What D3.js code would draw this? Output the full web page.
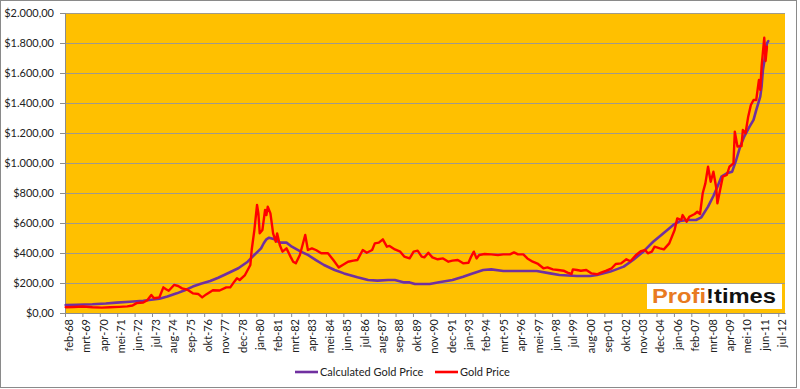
<!DOCTYPE html>
<html><head><meta charset="utf-8">
<script src="https://cdn.jsdelivr.net/npm/d3@7"></script>
<style>
body{margin:0;background:#fff}
svg{display:block}
text{font-family:Lato,"Liberation Sans",sans-serif}
</style>
</head><body>
<svg id="c" width="800" height="389"></svg>
<script>
// ---------- data ----------
const tickLabels = ["feb-68","mrt-69","apr-70","mei-71","jun-72","jul-73","aug-74","sep-75","okt-76","nov-77","dec-78","jan-80","feb-81","mrt-82","apr-83","mei-84","jun-85","jul-86","aug-87","sep-88","okt-89","nov-90","dec-91","jan-93","feb-94","mrt-95","apr-96","mei-97","jun-98","jul-99","aug-00","sep-01","okt-02","nov-03","dec-04","jan-06","feb-07","mrt-08","apr-09","mei-10","jun-11","jul-12"];
const yTicks = [0,200,400,600,800,1000,1200,1400,1600,1800,2000];
const seriesNames = ["Calculated Gold Price","Gold Price"];

const calcDates = ["1968-02","1968-10","1969-10","1970-08","1971-04","1972-02","1972-12","1973-12","1974-06","1975-01","1975-07","1976-01","1976-07","1977-02","1977-08","1978-02","1978-11","1979-06","1979-11","1980-04","1980-06","1980-08","1980-10","1981-02","1981-06","1981-11","1982-03","1982-09","1983-03","1983-09","1984-03","1984-11","1985-06","1986-04","1986-12","1987-07","1988-03","1988-08","1989-03","1989-07","1989-11","1990-03","1990-10","1991-05","1992-03","1992-11","1993-06","1994-02","1994-08","1995-05","1996-03","1997-06","1998-04","1998-11","1999-12","2000-10","2001-03","2002-01","2002-11","2003-06","2003-11","2004-02","2004-09","2005-04","2005-12","2006-05","2006-11","2007-05","2007-09","2008-02","2008-06","2008-09","2008-12","2009-04","2009-08","2009-11","2010-02","2010-05","2010-09","2010-12","2011-02","2011-05","2011-06","2011-07","2011-09","2011-10","2011-11"];
const calcValues = [53,55,58,63,69,75,82,95,110,131,152,176,195,213,235,260,298,342,387,431,465,491,502,491,469,469,442,413,387,353,320,287,264,238,220,216,220,220,204,204,193,193,193,205,220,242,264,287,291,280,280,280,264,253,247,247,253,276,309,353,390,412,475,527,587,613,620,620,638,709,780,842,909,931,942,1020,1109,1176,1242,1287,1353,1442,1509,1620,1731,1798,1813];

const goldDates = ["1968-02","1968-08","1969-03","1969-10","1970-05","1970-11","1971-06","1971-12","1972-04","1972-07","1972-12","1973-03","1973-06","1973-08","1973-12","1974-03","1974-05","1974-07","1974-11","1975-02","1975-05","1975-09","1976-01","1976-05","1976-08","1976-11","1977-04","1977-09","1978-02","1978-05","1978-08","1978-10","1978-12","1979-04","1979-08","1979-09","1979-11","1980-01","1980-02","1980-03","1980-05","1980-07","1980-08","1980-09","1980-11","1981-01","1981-03","1981-04","1981-06","1981-08","1981-11","1982-02","1982-04","1982-06","1982-09","1982-11","1983-01","1983-03","1983-06","1983-09","1984-01","1984-06","1984-10","1985-02","1985-05","1985-09","1986-01","1986-04","1986-08","1986-11","1987-03","1987-05","1987-08","1987-11","1988-02","1988-04","1988-08","1988-12","1989-03","1989-07","1989-10","1990-01","1990-04","1990-06","1990-09","1990-12","1991-04","1991-08","1991-12","1992-03","1992-07","1992-11","1993-03","1993-05","1993-07","1993-09","1993-11","1994-03","1994-08","1995-01","1995-05","1995-10","1996-01","1996-04","1996-08","1996-11","1997-03","1997-07","1997-11","1998-02","1998-06","1998-10","1999-02","1999-05","1999-08","1999-09","1999-12","2000-03","2000-07","2000-11","2001-03","2001-06","2001-10","2002-02","2002-05","2002-09","2003-01","2003-04","2003-08","2003-12","2004-03","2004-05","2004-08","2004-10","2005-02","2005-05","2005-09","2006-01","2006-03","2006-06","2006-07","2006-10","2006-12","2007-04","2007-06","2007-08","2007-10","2007-12","2008-02","2008-04","2008-06","2008-08","2008-09","2008-11","2009-01","2009-04","2009-06","2009-09","2009-10","2009-12","2010-03","2010-04","2010-06","2010-08","2010-10","2010-12","2011-02","2011-04","2011-05","2011-06","2011-08","2011-09","2011-10"];
const goldValues = [38,40,43,38,36,38,41,44,50,66,70,85,120,98,104,171,158,148,187,180,164,155,131,127,104,124,152,150,171,171,209,231,220,253,320,420,553,720,664,531,553,687,653,709,664,531,475,531,453,409,431,376,342,331,387,453,520,420,431,420,398,398,353,304,320,342,349,353,420,402,420,464,469,491,442,447,424,409,376,364,409,416,376,371,402,371,358,364,342,349,353,331,335,376,409,364,387,393,391,387,391,391,404,391,391,364,342,327,298,304,291,287,282,269,260,291,287,282,287,264,258,269,282,298,327,331,358,345,385,413,420,398,409,442,431,424,464,553,631,620,653,609,642,660,675,660,798,864,975,875,942,842,731,820,909,920,975,998,1209,1109,1113,1220,1198,1309,1387,1420,1420,1553,1487,1642,1835,1680,1776];

// ---------- layout ----------
const plot = {left:65, right:785, top:13, bottom:313};
const nMonths = 538;
const toIndex = s => { const [yy, mm] = s.split('-').map(Number); return (yy - 1968) * 12 + (mm - 2); };

const svg = d3.select('#c');
const x = d3.scaleLinear().domain([0, nMonths]).range([plot.left, plot.right]);
const y = d3.scaleLinear().domain([0, 2000]).range([plot.bottom, plot.top]);

const locale = d3.formatLocale({decimal: ",", thousands: ".", grouping: [3], currency: ["$", ""]});
const fmt = locale.format("$,.2f");

// plot background
svg.append('rect').attr('x', plot.left).attr('y', plot.top)
  .attr('width', plot.right - plot.left).attr('height', plot.bottom - plot.top)
  .attr('fill', '#FFC000');

// gridlines
svg.append('g').selectAll('line').data(yTicks.filter(d => d > 0)).join('line')
  .attr('x1', plot.left).attr('x2', plot.right)
  .attr('y1', d => Math.round(y(d)) + 0.5).attr('y2', d => Math.round(y(d)) + 0.5)
  .attr('stroke', '#A09A8A').attr('stroke-width', 1.2);

// y axis
const yAxis = svg.append('g').attr('transform', `translate(${plot.left},0)`)
  .call(d3.axisLeft(y).tickValues(yTicks).tickFormat(fmt).tickSize(5).tickPadding(6));
yAxis.select('.domain').attr('stroke', '#8c8c8c');
yAxis.selectAll('.tick line').attr('stroke', '#8c8c8c');
yAxis.selectAll('text').attr('font-size', 11).attr('fill', '#222')
  .style('font-family', 'Lato, "Liberation Sans", sans-serif');

// x axis
const xTickVals = tickLabels.map((_, i) => i * 13);
const xAxis = svg.append('g').attr('transform', `translate(0,${plot.bottom})`)
  .call(d3.axisBottom(x).tickValues(xTickVals).tickFormat((d, i) => tickLabels[i]).tickSize(4).tickSizeOuter(0));
xAxis.select('.domain').attr('stroke', '#8c8c8c');
xAxis.selectAll('.tick line').attr('stroke', '#8c8c8c');
xAxis.selectAll('.tick text')
  .attr('font-size', 11).attr('fill', '#222')
  .style('font-family', 'Lato, "Liberation Sans", sans-serif')
  .attr('text-anchor', 'end')
  .attr('transform', 'translate(3.5,6) rotate(-90)')
  .attr('x', 0).attr('y', 0).attr('dy', '0.35em');

// lines
const line = d3.line().x(d => x(d.m + 0.5)).y(d => y(d.v));
const calcData = calcDates.map((d, i) => ({m: toIndex(d), v: calcValues[i]}));
const goldData = goldDates.map((d, i) => ({m: toIndex(d), v: goldValues[i]}));

svg.append('path').datum(calcData).attr('d', line)
  .attr('fill', 'none').attr('stroke', '#7030A0').attr('stroke-width', 2.6)
  .attr('stroke-linejoin', 'round').attr('stroke-linecap', 'round');
svg.append('path').datum(goldData).attr('d', line)
  .attr('fill', 'none').attr('stroke', '#FF0000').attr('stroke-width', 2.4)
  .attr('stroke-linejoin', 'round').attr('stroke-linecap', 'round');

// logo
const logo = svg.append('g');
logo.append('rect').attr('x', 647).attr('y', 284).attr('width', 135).attr('height', 25).attr('fill', '#fff');
const lt = logo.append('text').attr('x', 652).attr('y', 303)
  .attr('font-size', 20).attr('font-weight', 'bold')
  .style('font-family', '"Liberation Sans", Arial, sans-serif')
  .attr('textLength', 124).attr('lengthAdjust', 'spacingAndGlyphs');
lt.append('tspan').attr('fill', '#E87A22').text('Profi');
lt.append('tspan').attr('fill', '#111').text('!');
lt.append('tspan').attr('fill', '#111').text('times');

// legend
const legend = svg.append('g');
const legItems = [
  {name: seriesNames[0], color: '#7030A0', x: 295},
  {name: seriesNames[1], color: '#FF0000', x: 435}
];
legItems.forEach(it => {
  legend.append('line').attr('x1', it.x).attr('x2', it.x + 23).attr('y1', 372).attr('y2', 372)
    .attr('stroke', it.color).attr('stroke-width', 2.6);
  legend.append('text').attr('x', it.x + 25).attr('y', 376).attr('font-size', 11).attr('fill', '#222').text(it.name);
});

// outer border
svg.append('rect').attr('x', 0.5).attr('y', 0.5).attr('width', 796).attr('height', 387)
  .attr('fill', 'none').attr('stroke', '#8a8a8a');
</script>
</body></html>
